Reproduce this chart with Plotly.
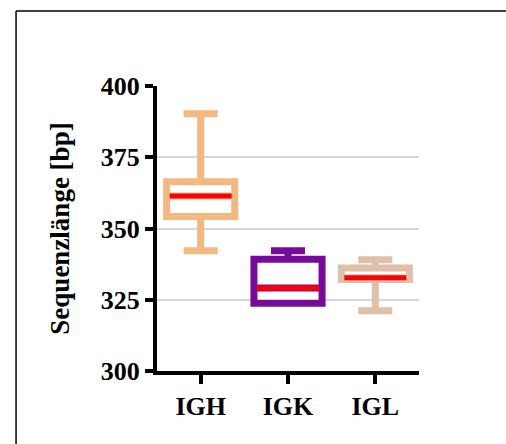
import plotly.graph_objects as go

# Sequence length summary per immunoglobulin chain (bp)
chains = ["IGH", "IGK", "IGL"]
lower_fence = [342.2, 323.8, 321.1]
q1 = [354.2, 323.8, 332.1]
median = [361.4, 329.1, 332.7]
q3 = [366.4, 339.2, 336.1]
upper_fence = [390.3, 342.2, 339.0]
colors = ["#F4B880", "#770A9B", "#DDC1A9"]

y_ticks = [300, 325, 350, 375, 400]

BOX_WIDTH = 0.78
MEDIAN_HALF = 0.355
FONT = "Liberation Serif"

fig = go.Figure()

for i, name in enumerate(chains):
    fig.add_trace(go.Box(
        x=[i],
        q1=[q1[i]], median=[median[i]], q3=[q3[i]],
        lowerfence=[lower_fence[i]], upperfence=[upper_fence[i]],
        width=BOX_WIDTH,
        whiskerwidth=0.5,
        boxpoints=False,
        line=dict(color=colors[i], width=7),
        fillcolor="white",
        name=name,
        showlegend=False,
        hoverinfo="skip",
    ))

# red median bars drawn over each box
mx, my = [], []
for i, m in enumerate(median):
    mx += [i - MEDIAN_HALF, i + MEDIAN_HALF, None]
    my += [m, m, None]
fig.add_trace(go.Scatter(
    x=mx, y=my, mode="lines",
    line=dict(color="#FF0000", width=5),
    showlegend=False, hoverinfo="skip",
))

# frame lines around the figure
fig.add_shape(type="line", xref="paper", yref="paper",
              x0=-0.538, x1=1.5, y0=1.263, y1=1.263,
              line=dict(color="black", width=1.5))
fig.add_shape(type="line", xref="paper", yref="paper",
              x0=-0.538, x1=-0.538, y0=1.263, y1=-0.5,
              line=dict(color="black", width=1.5))

fig.update_layout(
    width=506, height=444,
    margin=dict(l=157, r=87, t=86, b=73, autoexpand=False),
    paper_bgcolor="white", plot_bgcolor="white",
    font=dict(family=FONT, color="black"),
    xaxis=dict(
        range=[-0.5, 2.5],
        tickmode="array", tickvals=list(range(len(chains))), ticktext=chains,
        tickfont=dict(family=FONT, size=26, color="black", weight="bold"),
        showline=True, linecolor="black", linewidth=4,
        ticks="outside", ticklen=9, tickwidth=4, tickcolor="black",
        showgrid=False, zeroline=False,
    ),
    yaxis=dict(
        range=[300, 400],
        tickmode="array", tickvals=y_ticks,
        tickfont=dict(family=FONT, size=26, color="black", weight="bold"),
        showline=True, linecolor="black", linewidth=4,
        ticks="outside", ticklen=8, tickwidth=4, tickcolor="black",
        showgrid=True, gridcolor="#D6D6D6", gridwidth=2,
        zeroline=False,
        title=dict(text="Sequenzlänge [bp]", standoff=24,
                   font=dict(family=FONT, size=27, color="black", weight="bold")),
    ),
)

fig.write_html("out.html")
